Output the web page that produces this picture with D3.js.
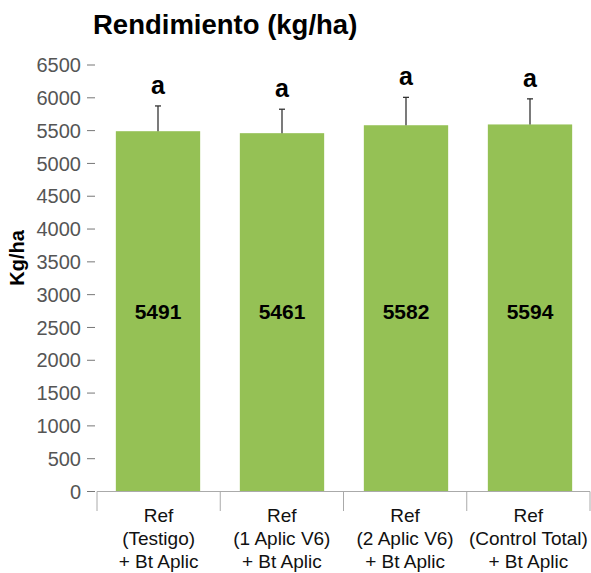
<!DOCTYPE html>
<html>
<head>
  <meta charset="utf-8" />
  <title>Rendimiento</title>
  <script src="https://cdn.jsdelivr.net/npm/d3@7"></script>
  <style>
    body{ margin:0; background:white; }
    text{ font-family: "Liberation Sans", Arial, Helvetica, sans-serif; }
  </style>
</head>
<body>
  <script>
    // - - - - - DATA - - - - - //
    var categories = [
      ["Ref", "(Testigo)", "+ Bt Aplic"],
      ["Ref", "(1 Aplic V6)", "+ Bt Aplic"],
      ["Ref", "(2 Aplic V6)", "+ Bt Aplic"],
      ["Ref", "(Control Total)", "+ Bt Aplic"]
    ];
    var yields = [5491, 5461, 5582, 5594];
    var errors = [385, 365, 425, 390];
    var letters = ["a", "a", "a", "a"];
    var yTicks = d3.range(0, 6501, 500);

    // - - - - - CANVAS - - - - - //
    var w = 591, h = 573;
    var svg = d3.select("body").append("svg")
      .attr("width", w)
      .attr("height", h);

    // - - - - - SCALES - - - - - //
    var x = d3.scaleBand()
      .domain(d3.range(categories.length))
      .range([96, 592])
      .paddingInner(0.32)
      .paddingOuter(0.16);
    var xSep = d3.scaleBand()
      .domain(d3.range(categories.length))
      .range([97, 590]);
    var y = d3.scaleLinear()
      .domain([0, 6500])
      .range([491.5, 65]);

    // title
    svg.append("text")
      .attr("x", 93)
      .attr("y", 34)
      .attr("font-size", "27.5px")
      .attr("font-weight", "bold")
      .attr("fill", "#000")
      .text("Rendimiento (kg/ha)");

    // y axis label
    svg.append("text")
      .attr("transform", "translate(24,258) rotate(-90)")
      .attr("text-anchor", "middle")
      .attr("font-size", "20px")
      .attr("font-weight", "bold")
      .text("Kg/ha");

    // y ticks
    var yt = svg.append("g").selectAll("g")
      .data(yTicks)
      .enter().append("g")
      .attr("transform", function(d){ return "translate(0," + y(d) + ")"; });
    yt.append("text")
      .attr("x", 81)
      .attr("dy", "0.36em")
      .attr("text-anchor", "end")
      .attr("font-size", "20px")
      .attr("fill", "#555")
      .text(function(d){ return d; });
    yt.append("line")
      .attr("x1", 87).attr("x2", 95)
      .attr("stroke", "#777")
      .attr("stroke-width", 1);

    // bars
    svg.append("g").selectAll("rect")
      .data(yields)
      .enter().append("rect")
      .attr("x", function(d,i){ return x(i); })
      .attr("width", x.bandwidth())
      .attr("y", function(d){ return y(d); })
      .attr("height", function(d){ return y(0) - y(d); })
      .attr("fill", "#95c155");

    // error bars
    var eb = svg.append("g").selectAll("g")
      .data(yields)
      .enter().append("g")
      .attr("stroke", "#333")
      .attr("stroke-width", 1.3);
    eb.append("line")
      .attr("x1", function(d,i){ return x(i) + x.bandwidth()/2; })
      .attr("x2", function(d,i){ return x(i) + x.bandwidth()/2; })
      .attr("y1", function(d){ return y(d); })
      .attr("y2", function(d,i){ return y(d + errors[i]); });
    eb.append("line")
      .attr("x1", function(d,i){ return x(i) + x.bandwidth()/2 - 3; })
      .attr("x2", function(d,i){ return x(i) + x.bandwidth()/2 + 3; })
      .attr("y1", function(d,i){ return y(d + errors[i]); })
      .attr("y2", function(d,i){ return y(d + errors[i]); });

    // significance letters
    svg.append("g").selectAll("text")
      .data(yields)
      .enter().append("text")
      .attr("x", function(d,i){ return x(i) + x.bandwidth()/2; })
      .attr("y", function(d,i){ return y(d + errors[i]) - 12; })
      .attr("text-anchor", "middle")
      .attr("font-size", "25px")
      .attr("font-weight", "bold")
      .text(function(d,i){ return letters[i]; });

    // value labels (all on one line, at the middle of the mean bar)
    var labelY = y(d3.mean(yields) / 2) + 9;
    svg.append("g").selectAll("text")
      .data(yields)
      .enter().append("text")
      .attr("x", function(d,i){ return x(i) + x.bandwidth()/2; })
      .attr("y", labelY)
      .attr("text-anchor", "middle")
      .attr("font-size", "21px")
      .attr("font-weight", "bold")
      .text(function(d){ return d; });

    // x axis
    var xa = svg.append("g").attr("stroke", "#aaa").attr("stroke-width", 1);
    xa.append("line")
      .attr("x1", 97).attr("x2", 590)
      .attr("y1", y(0)).attr("y2", y(0));
    xa.selectAll(".sep")
      .data(d3.range(categories.length + 1))
      .enter().append("line")
      .attr("class", "sep")
      .attr("x1", function(i){ return i < categories.length ? xSep(i) : xSep.range()[1]; })
      .attr("x2", function(i){ return i < categories.length ? xSep(i) : xSep.range()[1]; })
      .attr("y1", y(0)).attr("y2", 511);

    // category labels
    var cl = svg.append("g").selectAll("text")
      .data(categories)
      .enter().append("text")
      .attr("x", function(d,i){ return xSep(i) + xSep.bandwidth()/2; })
      .attr("text-anchor", "middle")
      .attr("font-size", "19px")
      .attr("fill", "#111");
    cl.selectAll("tspan")
      .data(function(d){ return d; })
      .enter().append("tspan")
      .attr("x", function(){ return d3.select(this.parentNode).attr("x"); })
      .attr("y", function(d,j){ return 522 + j*23; })
      .text(function(d){ return d; });
  </script>
</body>
</html>
